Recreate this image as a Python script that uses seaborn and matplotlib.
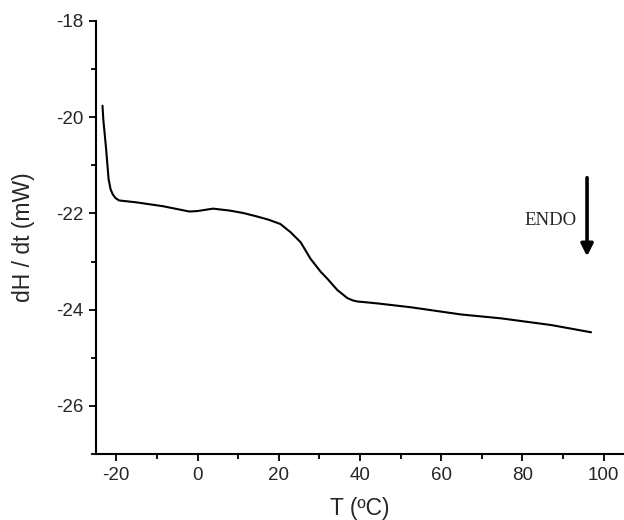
import matplotlib
matplotlib.use("Agg")
import matplotlib.pyplot as plt
import seaborn as sns
import pandas as pd
from matplotlib.ticker import MultipleLocator

# DSC trace
temperature = [-23.4, -23.2, -22.8, -22.5, -22.2, -21.9, -21.4, -20.9, -20.2, -19.3,
               -15.0, -8.5, -2.0, 0.0, 3.8, 7.9, 11.2, 14.5, 17.5, 20.4,
               22.9, 25.4, 27.8, 30.3, 32.0, 34.4, 36.9, 38.3, 39.4, 44.3,
               52.5, 64.9, 74.7, 87.1, 96.9]
heat_flow = [-19.76, -20.05, -20.40, -20.67, -20.98, -21.29, -21.50, -21.60, -21.68, -21.73,
             -21.77, -21.85, -21.96, -21.95, -21.90, -21.94, -21.99, -22.06, -22.13, -22.22,
             -22.39, -22.60, -22.94, -23.21, -23.36, -23.59, -23.76, -23.81, -23.83, -23.87,
             -23.95, -24.10, -24.18, -24.32, -24.47]
x_ticks = [-20, 0, 20, 40, 60, 80, 100]
y_ticks = [-26, -24, -22, -20, -18]

df = pd.DataFrame({"T": temperature, "dHdt": heat_flow})

sns.set_style("ticks")
plt.rcParams["font.family"] = ["Liberation Sans", "DejaVu Sans"]
plt.rcParams["axes.unicode_minus"] = False

fig = plt.figure(figsize=(6.24, 5.2), dpi=100)
ax = fig.add_axes([96 / 624, 1 - 454 / 520, 1 - 96 / 624, (454 - 21) / 520])

sns.lineplot(data=df, x="T", y="dHdt", color="black", linewidth=1.5, ax=ax)
ax.lines[0].set_solid_joinstyle("round")

ax.set_xlim(-25, 105)
ax.set_ylim(-27, -18)
ax.set_xticks(x_ticks)
ax.set_yticks(y_ticks)
ax.xaxis.set_minor_locator(MultipleLocator(10))
ax.yaxis.set_minor_locator(MultipleLocator(1))
ax.tick_params(which="major", length=5, width=1.3, labelsize=13.5, pad=4, color="black")
ax.tick_params(which="minor", length=3.5, width=1.3, color="black")

sns.despine(ax=ax)
for side in ["left", "bottom"]:
    ax.spines[side].set_linewidth(1.5)
    ax.spines[side].set_color("black")

ax.set_xlabel("T (ºC)", fontsize=16.5, labelpad=10)
ax.set_ylabel("dH / dt (mW)", fontsize=16.5, labelpad=15)

# endotherm direction marker
ax.annotate("", xy=(95.9, -22.95), xytext=(95.9, -21.2),
            arrowprops=dict(arrowstyle="-|>", color="black", lw=2.6,
                            mutation_scale=18))
ax.text(86.8, -22.15, "ENDO", family="Liberation Serif", fontsize=13.5,
        ha="center", va="center")

fig.savefig("out.png", dpi=100)
